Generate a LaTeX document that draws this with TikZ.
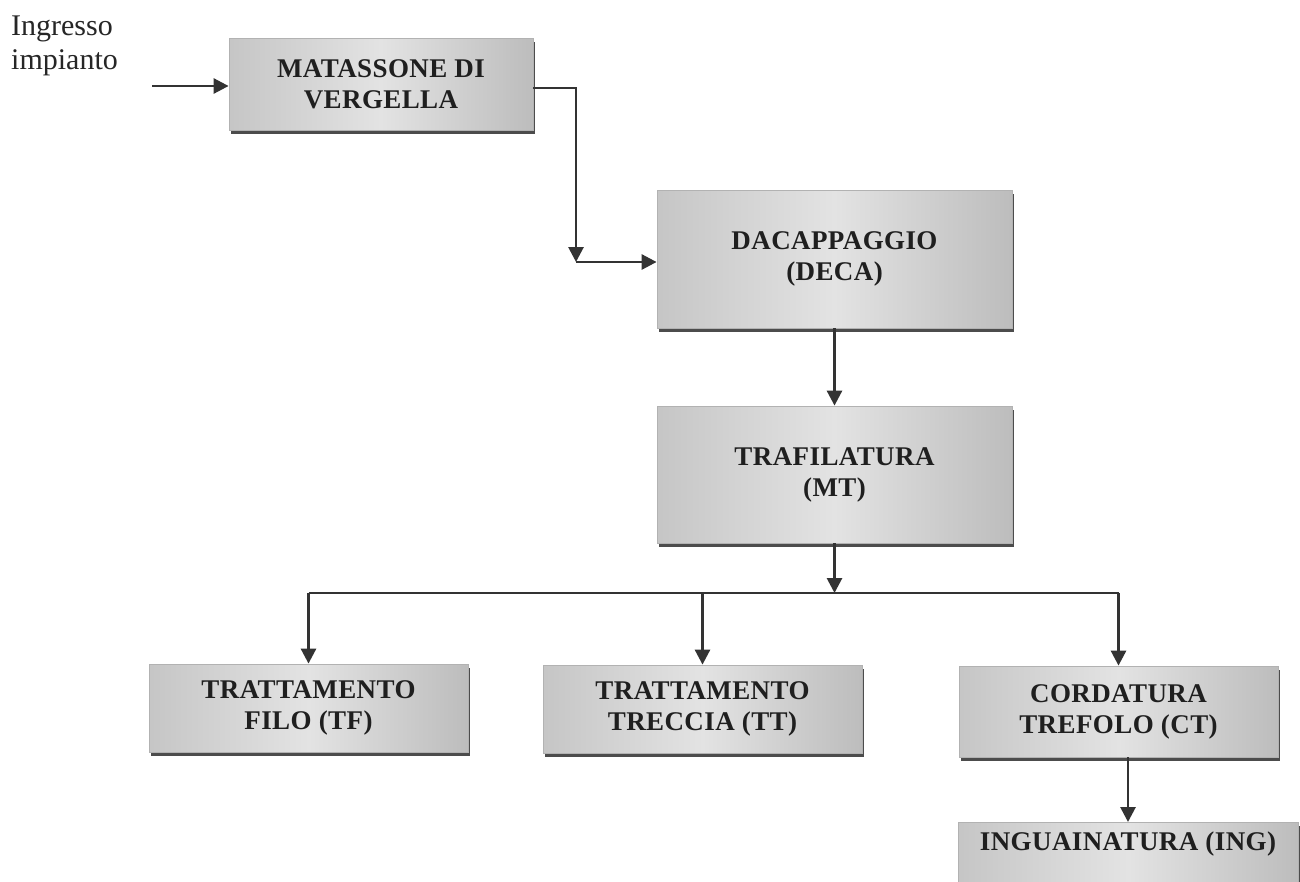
\documentclass[tikz,border=0pt]{standalone}
\usepackage{fontspec}
\setmainfont{Liberation Serif}
\newfontfamily\boxfont[LetterSpace=1.5]{Liberation Serif}
\usetikzlibrary{arrows.meta,shadows}
\tikzset{
  procbox/.style={draw=gray!60, line width=0.8pt,
    left color=gray!45, right color=gray!52, middle color=gray!22,
    drop shadow={shadow xshift=1.5pt, shadow yshift=-4pt, fill=gray!45!black, opacity=0.9},
    align=center, font=\boxfont\bfseries\fontsize{27}{31}\selectfont,
    text=black!88, inner sep=4pt},
  arr/.style={draw=gray!40!black, line width=2.8pt,
    -{Triangle[width=15pt,length=15pt]}},
  lin/.style={draw=gray!40!black, line width=2.8pt},
}
\begin{document}
\begin{tikzpicture}[x=1pt,y=-1pt]
\useasboundingbox (0,0) rectangle (1300,881);
\clip (0,0) rectangle (1300,881);
\fill[white] (0,0) rectangle (1300,881);

\node[anchor=north west, align=left, inner sep=0pt, text=black!85,
  font=\fontsize{30}{34}\selectfont] (lbl) at (11,16) {Ingresso\\impianto};

\node[procbox, minimum width=304pt, minimum height=92pt] (mat) at (381,84)
  {MATASSONE DI\\VERGELLA};
\node[procbox, minimum width=355pt, minimum height=138pt] (deca) at (834.5,259)
  {DACAPPAGGIO\\(DECA)};
\node[procbox, minimum width=355pt, minimum height=137pt] (traf) at (834.5,474.5)
  {TRAFILATURA\\(MT)};
\node[procbox, minimum width=319pt, minimum height=88pt] (tf) at (308.5,708)
  {TRATTAMENTO\\FILO (TF)};
\node[procbox, minimum width=319pt, minimum height=88pt] (tt) at (702.5,709)
  {TRATTAMENTO\\TRECCIA (TT)};
\node[procbox, minimum width=319pt, minimum height=91pt] (ct) at (1118.5,711.5)
  {CORDATURA\\TREFOLO (CT)};
\node[procbox, minimum width=340pt, anchor=north, text height=24pt, text depth=44pt]
  (ing) at (1128,822) {INGUAINATURA (ING)};

\coordinate (in) at (152,86);
\coordinate (c1) at (576,262);
\coordinate (j) at (834.5,593);

\draw[arr] (in) -- (in -| mat.west);
\draw[arr] ([yshift=-4pt]mat.east) -| (c1);
\draw[arr] (c1) -- (c1 -| deca.west);
\draw[arr] (deca.south) -- (traf.north);
\draw[arr] (traf.south) -- (j);
\draw[lin] (tf.north |- j) -- (ct.north |- j);
\draw[arr] (tf.north |- j) -- (tf.north);
\draw[arr] (tt.north |- j) -- (tt.north);
\draw[arr] (ct.north |- j) -- (ct.north);
\draw[arr] (ing.north |- ct.south) -- (ing.north);
\end{tikzpicture}
\end{document}
